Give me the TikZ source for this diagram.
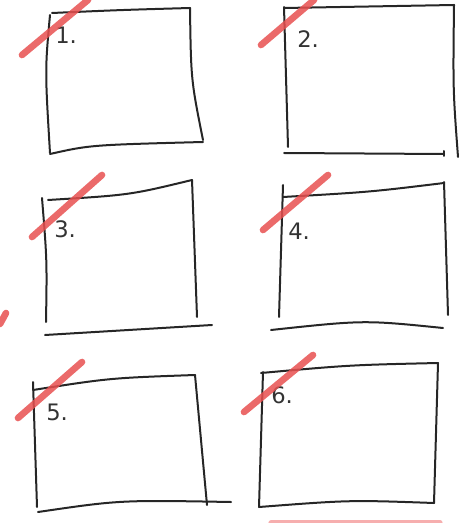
\documentclass[tikz,border=0pt]{standalone}
\usepackage{fontspec}
\setmainfont{DejaVu Sans}
\begin{document}
\begin{tikzpicture}[x=0.75pt,y=-0.75pt,
  pen/.style={draw=black!85, line width=1.5pt, line cap=round, line join=round},
  marker/.style={draw={rgb,255:red,232;green,80;blue,80}, line width=5pt, line cap=round, opacity=0.85},
  faintmarker/.style={draw={rgb,255:red,240;green,120;blue,120}, line width=4pt, line cap=round, opacity=0.6},
  lbl/.style={anchor=base west, inner sep=0pt, text=black!80, font=\fontsize{17}{18}\selectfont}]
\useasboundingbox (0,0) rectangle (462,523);
% box 1
\draw[pen] (50,15) .. controls (45,70) .. (50,153);
\draw[pen] (52,13) .. controls (120,10) .. (190,8);
\draw[pen] (190,8) .. controls (191,80) .. (203,140);
\draw[pen] (50,154) .. controls (90,145) .. (203,142);
% box 2
\draw[pen] (284,7) -- (288,147);
\draw[pen] (284,8) -- (454,5);
\draw[pen] (454,5) .. controls (453,90) .. (458,157);
\draw[pen] (284,153) -- (444,154);
\draw[pen] (444,151) -- (444,156);
% box 3
\draw[pen] (42,198) .. controls (47,260) .. (46,322);
\draw[pen] (48,200) .. controls (130,195) .. (192,180);
\draw[pen] (192,180) -- (197,317);
\draw[pen] (45,335) -- (212,325);
% box 4
\draw[pen] (283,185) -- (279,317);
\draw[pen] (283,197) .. controls (370,192) .. (444,183);
\draw[pen] (444,182) -- (448,315);
\draw[pen] (271,330) .. controls (364,320) .. (443,328);
% box 5
\draw[pen] (33,382) -- (37,507);
\draw[pen] (33,390) .. controls (110,378) .. (195,375);
\draw[pen] (195,375) -- (207,505);
\draw[pen] (38,512) .. controls (120,500) .. (231,502);
% box 6
\draw[pen] (263,372) -- (259,507);
\draw[pen] (261,373) .. controls (350,365) .. (438,363);
\draw[pen] (438,363) -- (434,503);
\draw[pen] (259,507) .. controls (350,500) .. (434,503);
% labels
\node[lbl] (l1) at (55,44) {1.};
\node[lbl] (l2) at (297,48) {2.};
\node[lbl] (l3) at (54,238) {3.};
\node[lbl] (l4) at (288,240) {4.};
\node[lbl] (l5) at (46,420) {5.};
\node[lbl] (l6) at (271,403) {6.};
% red slashes
\draw[marker] (22,55) -- (88,0);
\draw[marker] (261,45) -- (314,0);
\draw[marker] (32,237) -- (102,175);
\draw[marker] (263,230) -- (328,175);
\draw[marker] (18,418) -- (82,362);
\draw[marker] (244,412) -- (313,355);
\draw[marker] (0,324) -- (6,313);
\draw[faintmarker] (271,523) -- (440,523);
\end{tikzpicture}
\end{document}
